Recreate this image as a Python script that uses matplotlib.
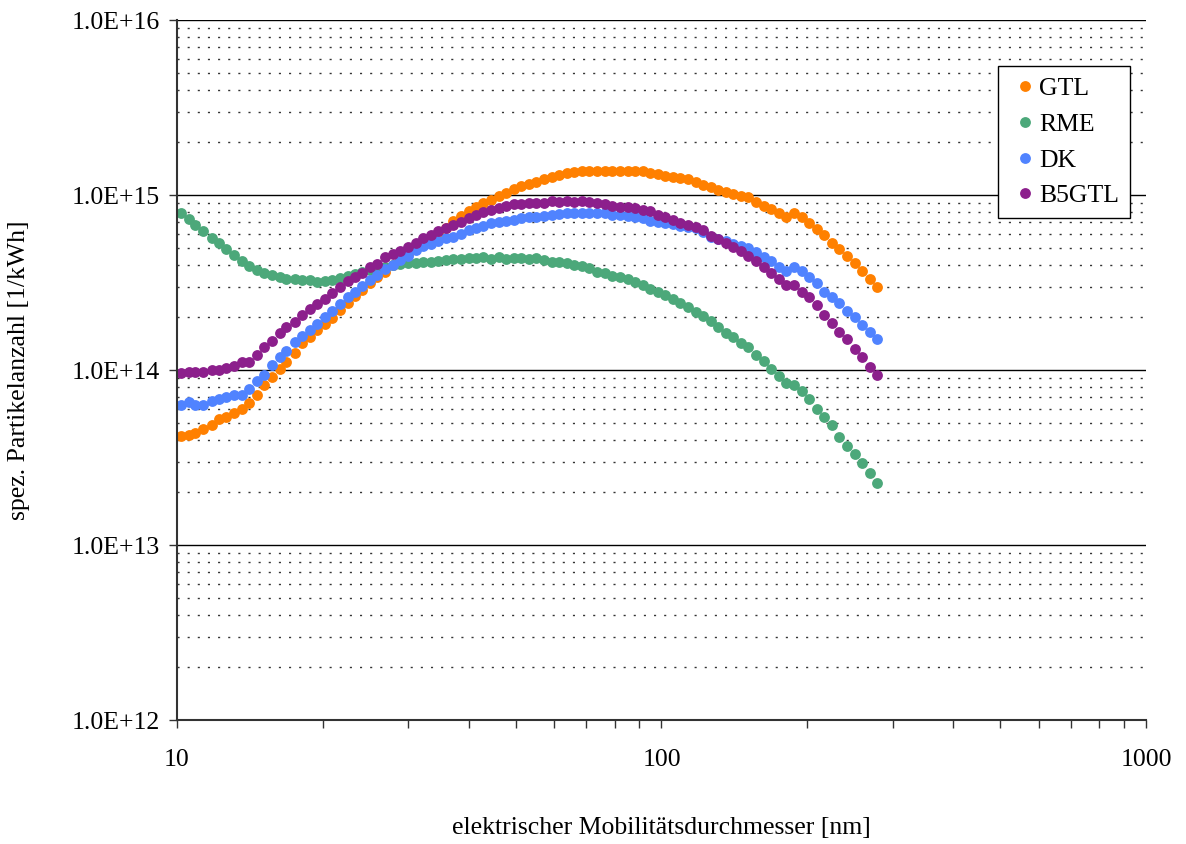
"""Particle size distributions (SMPS), four fuels, log-log"""

import numpy as np
import matplotlib
matplotlib.use("Agg")
import matplotlib.pyplot as plt
from matplotlib.ticker import LogLocator, FuncFormatter, NullFormatter

plt.rcParams['font.family'] = ['Liberation Serif', 'DejaVu Serif']

# SMPS channel midpoints, 64 channels per decade [nm]
diameter_nm = [
    10.2, 10.6, 10.9, 11.3, 11.8, 12.2, 12.6, 13.1, 13.6, 14.1,
    14.6, 15.1, 15.7, 16.3, 16.8, 17.5, 18.1, 18.8, 19.5, 20.2,
    20.9, 21.7, 22.5, 23.3, 24.1, 25.0, 25.9, 26.9, 27.9, 28.9,
    30.0, 31.1, 32.2, 33.4, 34.6, 35.9, 37.2, 38.5, 40.0, 41.4,
    42.9, 44.5, 46.1, 47.8, 49.6, 51.4, 53.3, 55.2, 57.3, 59.4,
    61.5, 63.8, 66.1, 68.5, 71.0, 73.7, 76.4, 79.1, 82.0, 85.1,
    88.2, 91.4, 94.7, 98.2, 101.8, 105.5, 109.4, 113.4, 117.6, 121.9,
    126.3, 131.0, 135.8, 140.7, 145.9, 151.2, 156.8, 162.5, 168.5, 174.7,
    181.1, 187.7, 194.6, 201.7, 209.1, 216.7, 224.7, 232.9, 241.4, 250.3,
    259.5, 269.0, 278.8,
]

# spez. Partikelanzahl in units of 1e14 1/kWh
gtl = [
    0.421, 0.425, 0.435, 0.458, 0.483, 0.525, 0.541, 0.570, 0.601, 0.650,
    0.717, 0.821, 0.912, 1.007, 1.118, 1.246, 1.421, 1.550, 1.686, 1.832,
    1.995, 2.211, 2.430, 2.648, 2.884, 3.130, 3.378, 3.646, 3.966, 4.308,
    4.613, 4.946, 5.283, 5.679, 6.066, 6.477, 7.101, 7.586, 8.101, 8.540,
    9.061, 9.425, 9.830, 10.22, 10.78, 11.26, 11.56, 11.79, 12.29, 12.72,
    13.09, 13.41, 13.62, 13.71, 13.71, 13.66, 13.66, 13.66, 13.66, 13.66,
    13.71, 13.66, 13.36, 13.18, 12.84, 12.62, 12.59, 12.29, 11.91, 11.41,
    11.07, 10.75, 10.44, 10.20, 9.908, 9.703, 9.157, 8.710, 8.287, 7.862,
    7.458, 7.893, 7.487, 6.918, 6.368, 5.907, 5.297, 4.894, 4.511, 4.072,
    3.664, 3.303, 2.969,
]

rme = [
    7.86, 7.26, 6.74, 6.20, 5.70, 5.30, 4.89, 4.52, 4.18, 3.93,
    3.74, 3.57, 3.48, 3.39, 3.30, 3.29, 3.27, 3.25, 3.20, 3.23,
    3.27, 3.36, 3.44, 3.54, 3.63, 3.73, 3.83, 3.90, 3.98, 4.03,
    4.09, 4.104, 4.158, 4.158, 4.213, 4.252, 4.291, 4.291, 4.348, 4.348,
    4.422, 4.336, 4.422, 4.336, 4.348, 4.348, 4.319, 4.348, 4.252, 4.158,
    4.158, 4.072, 3.981, 3.929, 3.813, 3.646, 3.569, 3.444, 3.387, 3.298,
    3.196, 3.060, 2.911, 2.802, 2.683, 2.535, 2.405, 2.301, 2.154, 2.027,
    1.900, 1.754, 1.634, 1.550, 1.427, 1.348, 1.218, 1.130, 1.020, 0.930,
    0.839, 0.816, 0.757, 0.680, 0.596, 0.537, 0.484, 0.413, 0.370, 0.332,
    0.293, 0.257, 0.225,
]

dk = [
    0.631, 0.659, 0.631, 0.631, 0.668, 0.683, 0.704, 0.720, 0.720, 0.776,
    0.865, 0.933, 1.068, 1.191, 1.284, 1.445, 1.564, 1.693, 1.844, 2.009,
    2.174, 2.399, 2.613, 2.809, 3.040, 3.247, 3.491, 3.777, 4.007, 4.280,
    4.481, 4.850, 5.079, 5.283, 5.495, 5.679, 5.792, 6.009, 6.285, 6.452,
    6.632, 6.891, 6.982, 7.101, 7.197, 7.361, 7.467, 7.516, 7.586, 7.687,
    7.790, 7.862, 7.925, 7.925, 7.925, 7.862, 7.862, 7.687, 7.687, 7.586,
    7.516, 7.361, 7.130, 7.036, 6.945, 6.828, 6.650, 6.590, 6.452, 6.146,
    5.792, 5.619, 5.459, 5.248, 5.093, 4.960, 4.724, 4.440, 4.223, 3.863,
    3.693, 3.863, 3.693, 3.387, 3.130, 2.802, 2.624, 2.405, 2.165, 2.009,
    1.808, 1.655, 1.497,
]

b5gtl = [
    0.965, 0.978, 0.978, 0.978, 1.000, 1.000, 1.023, 1.054, 1.115, 1.115,
    1.213, 1.348, 1.464, 1.621, 1.754, 1.888, 2.062, 2.223, 2.383, 2.535,
    2.744, 2.969, 3.226, 3.387, 3.569, 3.863, 4.034, 4.406, 4.601, 4.805,
    5.024, 5.339, 5.656, 5.907, 6.252, 6.452, 6.741, 7.036, 7.361, 7.687,
    7.996, 8.209, 8.483, 8.675, 8.860, 8.942, 8.966, 8.966, 9.036, 9.241,
    9.157, 9.278, 9.157, 9.278, 9.157, 8.966, 8.884, 8.652, 8.574, 8.505,
    8.395, 8.209, 8.101, 7.687, 7.516, 7.197, 6.945, 6.741, 6.540, 6.310,
    5.869, 5.583, 5.297, 5.066, 4.774, 4.511, 4.184, 3.877, 3.569, 3.298,
    3.060, 3.060, 2.802, 2.603, 2.346, 2.062, 1.849, 1.655, 1.497, 1.313,
    1.182, 1.036, 0.934,
]

series_names = ['GTL', 'RME', 'DK', 'B5GTL']
series_colors = ['#FF8000', '#4CA87A', '#5083FF', '#8C1F8C']
unit = 1e14

fig = plt.figure(figsize=(11.86, 8.44), dpi=100)
ax = fig.add_axes([0.1492, 0.1469, 0.8171, 0.8294])

for name, vals, col in zip(series_names, [gtl, rme, dk, b5gtl], series_colors):
    ax.plot(diameter_nm, np.array(vals) * unit, linestyle='none', marker='o',
            markersize=7.8, color=col, markeredgewidth=0, label=name)

ax.set_xscale('log')
ax.set_yscale('log')
ax.set_xlim(10, 1000)
ax.set_ylim(1e12, 1e16)

# Ticks
ax.xaxis.set_major_locator(LogLocator(base=10, numticks=10))
ax.xaxis.set_minor_locator(LogLocator(base=10, subs=np.arange(2, 10), numticks=20))
ax.xaxis.set_minor_formatter(NullFormatter())
ax.xaxis.set_major_formatter(FuncFormatter(lambda v, _: f"{v:.0f}"))
ax.yaxis.set_major_locator(LogLocator(base=10, numticks=10))
ax.yaxis.set_minor_locator(LogLocator(base=10, subs=np.arange(2, 10), numticks=20))
ax.yaxis.set_minor_formatter(NullFormatter())
ax.yaxis.set_major_formatter(FuncFormatter(lambda v, _: f"{v:.1E}"))

ax.tick_params(axis='both', which='major', direction='out', length=6, width=1,
               color='#333333', labelsize=18.5)
ax.tick_params(axis='x', which='minor', direction='out', length=6, width=1, color='#333333')
ax.tick_params(axis='y', which='minor', length=0)
ax.tick_params(axis='x', which='major', pad=15)
ax.tick_params(axis='y', which='major', pad=6)

# Grid: solid at decades, dotted in between (y only)
ax.grid(False)
ax.yaxis.grid(True, which='major', color='black', linewidth=1.0, linestyle='-')
ax.yaxis.grid(True, which='minor', color='#333333', linewidth=1.0, linestyle=(0, (1.5, 5.8)))
ax.set_axisbelow(True)

for side in ['top', 'right']:
    ax.spines[side].set_visible(False)
for side in ['left', 'bottom']:
    ax.spines[side].set_color('#333333')
    ax.spines[side].set_linewidth(1.5)

ax.set_xlabel('elektrischer Mobilitätsdurchmesser [nm]', fontsize=18.5, labelpad=33)
ax.set_ylabel('spez. Partikelanzahl [1/kWh]', fontsize=18.5, labelpad=30)

leg = ax.legend(loc='upper left', bbox_to_anchor=(0.847, 0.934), fontsize=18.5,
                frameon=True, fancybox=False, edgecolor='black', framealpha=1,
                borderpad=0.42, labelspacing=0.5, handlelength=1.3,
                handletextpad=-0.1, borderaxespad=0, numpoints=1)
leg.get_frame().set_linewidth(1.0)

fig.savefig('out.png', dpi=100)
